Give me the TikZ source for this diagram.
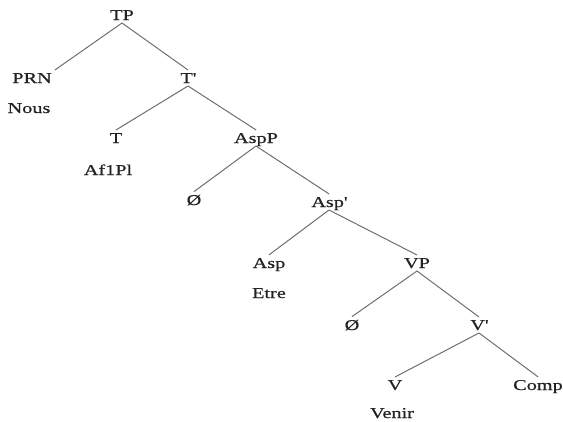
\documentclass[tikz,border=0pt]{standalone}
\usepackage{fontspec}
\setmainfont{Liberation Serif}[FakeStretch=1.35, FakeBold=0.6]
\usepackage{tikz}
\definecolor{grisligne}{RGB}{110,110,110}
\definecolor{encre}{RGB}{35,35,35}

\begin{document}
\begin{tikzpicture}[x=1pt, y=-1pt, font=\fontsize{15}{18}\selectfont,
    mot/.style={anchor=base, inner sep=3pt, text=encre},
    branche/.style={grisligne, line width=1pt}]
    \useasboundingbox (0,0) rectangle (563,421);
    % TP
    \node[mot] (tp) at (122,20) {TP};
    \node[mot] (prn) at (32,83) {PRN};
    \node[mot] (nous) at (29,113) {Nous};
    \node[mot] (tbar) at (188,83) {T\textquotesingle};
    % T' 
    \node[mot] (t) at (116,143) {T};
    \node[mot] (afpl) at (108,175) {Af1Pl};
    \node[mot] (aspp) at (256,143) {AspP};
    % AspP
    \node[mot] (nula) at (194,205) {Ø};
    \node[mot] (aspbar) at (329,207) {Asp\textquotesingle};
    % Asp'
    \node[mot] (asp) at (269,268) {Asp};
    \node[mot] (etre) at (269,298) {Etre};
    \node[mot] (vp) at (417,268) {VP};
    % VP
    \node[mot] (nulb) at (352,330) {Ø};
    \node[mot] (vbar) at (479,330) {V\textquotesingle};
    % V'
    \node[mot] (v) at (395,390) {V};
    \node[mot] (venir) at (392,418) {Venir};
    \node[mot] (comp) at (538,390) {Comp};
    % branches
    \draw[branche] ([yshift=-3pt]tp.base) -- (prn.north east);
    \foreach \a/\b in {tp/tbar, tbar/t, tbar/aspp, aspp/nula, aspp/aspbar,
        aspbar/asp, aspbar/vp, vp/nulb, vp/vbar, vbar/v, vbar/comp}
      \draw[branche] ([yshift=-3pt]\a.base) -- (\b.north);
\end{tikzpicture}
\end{document}
